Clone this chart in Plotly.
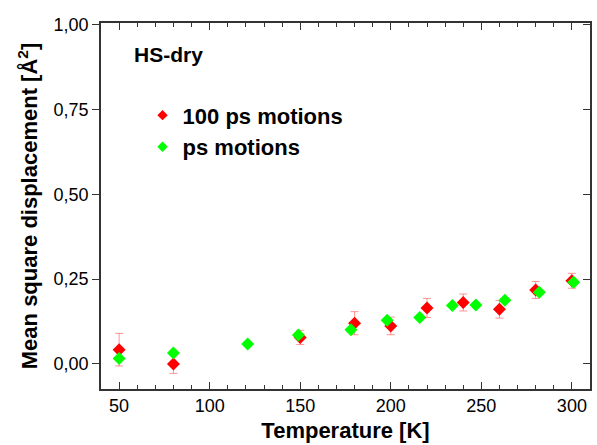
import plotly.graph_objects as go

# 100 ps motions (red)
t_red = [50, 80, 150, 180, 200, 220, 240, 260, 280, 300]
msd_red = [0.042, 0.000, 0.078, 0.120, 0.112, 0.165, 0.181, 0.161, 0.218, 0.245]
err_red = [0.048, 0.028, 0.021, 0.034, 0.026, 0.028, 0.025, 0.026, 0.025, 0.022]

# ps motions (green)
t_green = [50, 80, 121, 149, 178, 198, 216, 234, 247, 263, 282, 301]
msd_green = [0.016, 0.032, 0.059, 0.085, 0.101, 0.129, 0.137, 0.172, 0.174, 0.188, 0.211, 0.241]

FONT = "Liberation Sans, Arial, sans-serif"

fig = go.Figure()
fig.add_trace(go.Scatter(
    x=t_red, y=msd_red, mode="markers", showlegend=False,
    marker=dict(symbol="diamond", size=10, color="#ff0000"),
    error_y=dict(type="data", array=err_red, visible=True,
                 color="rgba(255,80,80,0.6)", thickness=1, width=4),
))
fig.add_trace(go.Scatter(
    x=t_green, y=msd_green, mode="markers", showlegend=False,
    marker=dict(symbol="diamond", size=10, color="#00ff00"),
))
# legend entries
fig.add_trace(go.Scatter(x=[None], y=[None], mode="markers", name="<b>100 ps motions</b>",
                         marker=dict(symbol="diamond", size=8, color="#ff0000")))
fig.add_trace(go.Scatter(x=[None], y=[None], mode="markers", name="<b>ps motions</b>",
                         marker=dict(symbol="diamond", size=8, color="#00ff00")))
# right-side axis helper for inward ticks
fig.add_trace(go.Scatter(x=[None], y=[None], yaxis="y2", showlegend=False, hoverinfo="skip"))

axcol = "#333333"
fig.update_layout(
    width=597, height=445,
    margin=dict(l=101, r=5, t=23, b=56),
    paper_bgcolor="white", plot_bgcolor="white",
    separators=", ",
    font=dict(family=FONT, size=18, color="black"),
    xaxis=dict(
        range=[40, 310], tickvals=[50, 100, 150, 200, 250, 300],
        ticks="inside", ticklen=7, tickwidth=1.3, tickcolor=axcol,
        minor=dict(dtick=10, ticks="inside", ticklen=4, tickwidth=1, tickcolor=axcol),
        showline=True, linecolor=axcol, linewidth=1.5, mirror="ticks",
        showgrid=False, zeroline=False,
        tickfont=dict(size=18, family=FONT),
        title=dict(text="<b>Temperature [K]</b>", font=dict(size=22, family=FONT), standoff=7),
    ),
    yaxis=dict(
        range=[-0.074, 1.005], tickvals=[0, 0.25, 0.5, 0.75, 1.0], tickformat=".2f",
        ticks="outside", ticklen=7, tickwidth=1.3, tickcolor=axcol,
        showline=True, linecolor=axcol, linewidth=1.5, mirror=True,
        showgrid=False, zeroline=False,
        tickfont=dict(size=18, family=FONT),
        title=dict(text="<b>Mean square displacement [Å<sup>2</sup>]</b>",
                   font=dict(size=22, family=FONT), standoff=10),
    ),
    yaxis2=dict(
        overlaying="y", side="right", range=[-0.074, 1.005],
        tickvals=[0, 0.25, 0.5, 0.75, 1.0], ticks="inside", ticklen=7,
        tickwidth=1.3, tickcolor=axcol, showticklabels=False,
        showgrid=False, zeroline=False, showline=False,
    ),
    legend=dict(x=0.085, y=0.805, xanchor="left", yanchor="top",
                bgcolor="rgba(0,0,0,0)", font=dict(size=22, family=FONT)),
    annotations=[dict(text="<b>HS-dry</b>", xref="paper", yref="paper",
                      x=0.063, y=0.915, xanchor="left", yanchor="middle",
                      showarrow=False, font=dict(size=21, family=FONT))],
)

fig.write_html("out.html", config={"displayModeBar": False},
               post_script="document.body.style.margin='0';")
